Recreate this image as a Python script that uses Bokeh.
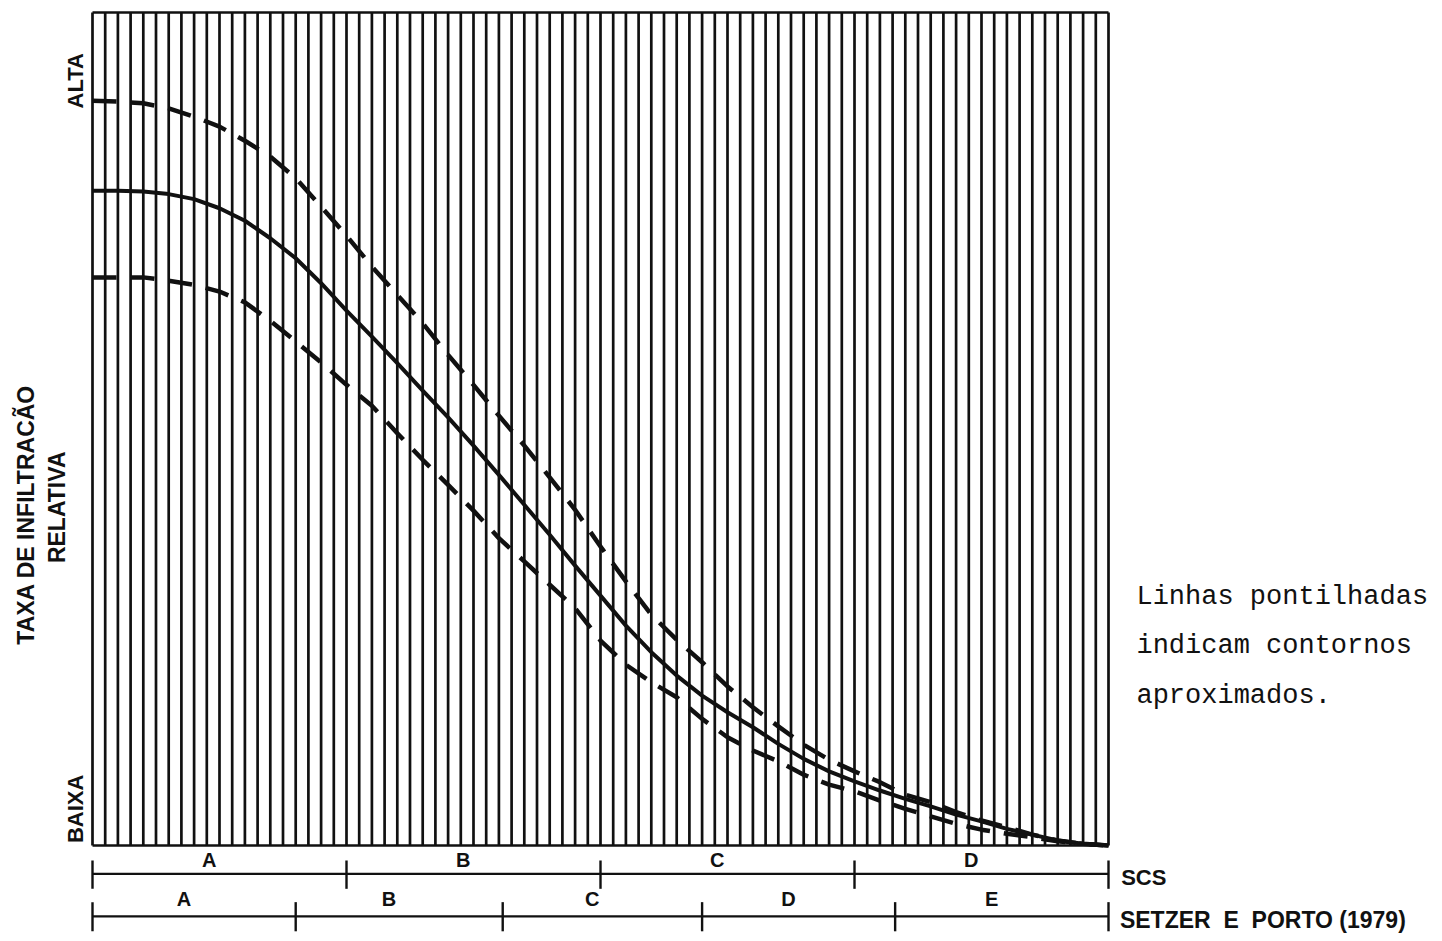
import numpy as np
from bokeh.plotting import figure
from bokeh.models import Range1d
from bokeh.core.properties import value
from bokeh.embed import file_html
from bokeh.resources import INLINE

# ---------------- data ----------------
# vertical hatch rules of the diagram (class-scale units, 0..80)
hatch_x = list(range(0, 81))

# curve abscissae (class-scale units) and relative infiltration rate (0..100)
curve_x = [0, 2, 4, 6, 8, 10, 12, 14, 16, 18, 20, 22, 24, 26, 28, 30, 32, 34, 36, 38, 40,
           42, 44, 46, 48, 50, 52, 54, 56, 58, 60, 62, 64, 66, 68, 70, 72, 74, 76, 78, 80]
mean_rate = [78.6, 78.6, 78.5, 78.2, 77.6, 76.5, 75.0, 72.9, 70.5, 67.5, 64.2,
             61.1, 57.9, 54.6, 51.4, 48.0, 44.5, 40.9, 37.3, 33.6, 30.0,
             26.4, 23.2, 20.4, 18.0, 16.0, 14.2, 12.2, 10.4, 8.9, 7.7,
             6.6, 5.6, 4.7, 3.7, 2.9, 2.0, 1.3, 0.6, 0.2, 0.0]
upper_rate = [89.4, 89.3, 89.1, 88.5, 87.5, 86.3, 84.6, 82.7, 80.1, 76.7, 73.2,
              69.5, 66.1, 62.7, 58.9, 55.3, 51.6, 48.0, 44.2, 40.3, 35.9,
              31.7, 27.7, 24.7, 22.0, 19.1, 16.6, 14.3, 12.1, 10.3, 8.9,
              7.6, 6.1, 5.2, 4.0, 3.0, 2.2, 1.3, 0.6, 0.2, 0.0]
lower_rate = [68.2, 68.2, 68.2, 67.8, 67.3, 66.5, 65.2, 63.0, 60.5, 58.0, 55.3,
              52.8, 49.5, 46.3, 43.3, 40.2, 36.9, 34.1, 31.3, 28.5, 24.6,
              21.7, 19.6, 17.8, 15.2, 13.0, 11.4, 10.1, 8.5, 7.3, 6.5,
              5.4, 4.4, 3.5, 2.6, 1.9, 1.4, 1.0, 0.5, 0.2, 0.0]

# soil group classifications along the abscissa
scs_classes = ["A", "B", "C", "D"]
scs_bounds = [0, 20, 40, 60, 80]
setzer_classes = ["A", "B", "C", "D", "E"]
setzer_bounds = [0, 16, 32.3, 48, 63.2, 80]

# y-axis level labels
level_labels = ["BAIXA", "ALTA"]
level_values = [4.4, 91.8]

y_title = ["TAXA DE INFILTRACÃO", "RELATIVA"]
row_names = ["SCS", "SETZER\u00a0\u00a0E\u00a0\u00a0PORTO (1979)"]
note_lines = ["Linhas pontilhadas", "indicam contornos", "aproximados."]

# ---------------- figure ----------------
W, H = 1442, 941
p = figure(width=W, height=H, output_backend="svg", toolbar_location=None,
           x_axis_type=None, y_axis_type=None, min_border=0,
           x_range=Range1d(-92 / 12.7, 80 + (W - 1108) / 12.7),
           y_range=Range1d(-(H - 845) / 8.33, 100 + 12 / 8.33))
p.grid.visible = False
p.outline_line_color = None
p.background_fill_color = "white"
p.border_fill_color = "white"

ink = "#111111"
BOLD = value("Liberation Sans")

# hatch rules
n = len(hatch_x)
p.segment(x0=hatch_x, y0=[0] * n, x1=hatch_x, y1=[100] * n,
          line_color=ink, line_width=2.7)
# top / bottom borders
p.segment(x0=[hatch_x[0]] * 2, y0=[0, 100], x1=[hatch_x[-1]] * 2, y1=[0, 100],
          line_color=ink, line_width=2.7)

# curves
p.line(curve_x, mean_rate, line_color=ink, line_width=4, line_join="round")
p.line(curve_x, upper_rate, line_color=ink, line_width=4.5, line_dash="24 14",
       line_join="round")
p.line(curve_x, lower_rate, line_color=ink, line_width=4.5, line_dash="24 14",
       line_join="round")

# y labels
p.text(x=[-1.3, -1.3], y=level_values, text=level_labels, angle=np.pi / 2,
       text_align="center", text_baseline="middle", text_font=BOLD,
       text_font_style="bold", text_font_size="22px", text_color=ink)
p.text(x=[-5.2, -2.8], y=[39.7, 40.6], text=y_title, angle=np.pi / 2,
       text_align="center", text_baseline="middle", text_font=BOLD,
       text_font_style="bold", text_font_size="23px", text_color=ink)


def class_row(bounds, classes, y_line, tick_lo, tick_hi, y_lab):
    p.segment(x0=[bounds[0]], y0=[y_line], x1=[bounds[-1]], y1=[y_line],
              line_color=ink, line_width=2.2)
    k = len(bounds)
    p.segment(x0=bounds, y0=[tick_lo] * k, x1=bounds, y1=[tick_hi] * k,
              line_color=ink, line_width=2.4)
    centers = [(a + b) / 2 - 0.8 for a, b in zip(bounds[:-1], bounds[1:])]
    p.text(x=centers, y=[y_lab] * len(classes), text=classes,
           text_align="center", text_baseline="middle", text_font=BOLD,
           text_font_style="bold", text_font_size="20px", text_color=ink)


class_row(scs_bounds, scs_classes, -3.4, -1.8, -5.2, -1.75)
class_row(setzer_bounds, setzer_classes, -8.5, -6.8, -10.3, -6.4)

p.text(x=[81.0], y=[-3.9], text=row_names[:1],
       text_align="left", text_baseline="middle", text_font=BOLD,
       text_font_style="bold", text_font_size="22px", text_color=ink)
p.text(x=[80.9], y=[-9.0], text=row_names[1:],
       text_align="left", text_baseline="middle", text_font=BOLD,
       text_font_style="bold", text_font_size="23px", text_color=ink)

# note
p.text(x=[82.2] * 3, y=[29.8, 23.9, 18.0], text=note_lines,
       text_align="left", text_baseline="alphabetic",
       text_font=value("Liberation Mono"), text_font_size="27px", text_color=ink)

open("out.html", "w").write(file_html(p, INLINE))
